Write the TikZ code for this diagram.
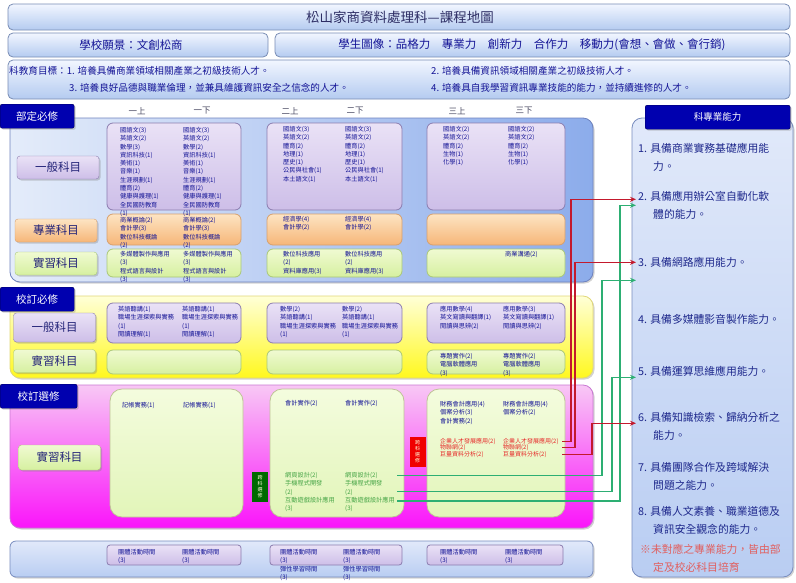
\documentclass[tikz,border=0pt]{standalone}
\usepackage{fontspec}
\newfontfamily\cjk{Noto Sans CJK TC}
\usepackage{tikz}
\usetikzlibrary{arrows.meta,positioning,calc,shadows}
\definecolor{barlight}{RGB}{242,246,255}
\definecolor{bardark}{RGB}{180,203,240}
\definecolor{barline}{RGB}{120,140,180}
\definecolor{tagblue}{RGB}{0,0,175}
\definecolor{tagline}{RGB}{0,0,90}
\definecolor{panAleft}{RGB}{228,236,250}
\definecolor{panAright}{RGB}{140,172,235}
\definecolor{panAline}{RGB}{110,130,190}
\definecolor{panBtop}{RGB}{255,255,215}
\definecolor{panBbottom}{RGB}{255,248,30}
\definecolor{panBline}{RGB}{225,215,120}
\definecolor{panCtop}{RGB}{248,200,245}
\definecolor{panCbottom}{RGB}{250,20,250}
\definecolor{panCline}{RGB}{200,120,210}
\definecolor{panDtop}{RGB}{225,233,250}
\definecolor{panDbottom}{RGB}{185,205,242}
\definecolor{panDline}{RGB}{120,140,190}
\definecolor{lavlight}{RGB}{234,226,246}
\definecolor{lavdark}{RGB}{205,190,232}
\definecolor{lavline}{RGB}{140,125,175}
\definecolor{orglight}{RGB}{253,228,195}
\definecolor{orgdark}{RGB}{246,182,120}
\definecolor{orgline}{RGB}{215,160,110}
\definecolor{grnlight}{RGB}{240,250,210}
\definecolor{grndark}{RGB}{214,240,160}
\definecolor{grnline}{RGB}{170,200,120}
\definecolor{palelight}{RGB}{244,252,222}
\definecolor{paledark}{RGB}{226,245,185}
\definecolor{paleline}{RGB}{190,195,150}
\definecolor{navytext}{RGB}{20,20,150}
\definecolor{labeltext}{RGB}{35,35,120}
\definecolor{titletext}{RGB}{45,45,100}
\definecolor{headtext}{RGB}{70,70,95}
\definecolor{redtext}{RGB}{230,40,40}
\definecolor{greentext}{RGB}{70,165,70}
\definecolor{abilitytext}{RGB}{30,40,140}
\definecolor{notetext}{RGB}{225,95,95}
\definecolor{linkred}{RGB}{195,25,45}
\definecolor{linkgreen}{RGB}{45,175,115}
\definecolor{vgreen}{RGB}{0,105,0}
\definecolor{vred}{RGB}{240,0,0}
\tikzset{
    soft shadow/.style={drop shadow={opacity=.35, shadow xshift=1.5pt, shadow yshift=-1.5pt}},
    bar/.style={draw=barline, line width=.8pt, rounded corners=5pt, top color=barlight, bottom color=bardark},
    section tag/.style={draw=tagline, fill=tagblue, text=white, rounded corners=2pt, anchor=north west,
        minimum height=24pt, inner sep=0pt, soft shadow, font=\cjk\fontsize{10.5}{12}\selectfont},
    row label/.style={draw=#1line, top color=#1light, bottom color=#1dark, rounded corners=3pt, soft shadow,
        minimum width=82pt, minimum height=23pt, inner sep=0pt, text=labeltext, font=\cjk\fontsize{11.5}{12}\selectfont},
    subject box/.style={draw=#1line, top color=#1light, bottom color=#1dark, rounded corners=6pt, line width=.8pt},
    course/.style={anchor=north west, inner sep=0pt, align=left, text=navytext, font=\cjk\fontsize{6.2}{8.3}\selectfont},
    semester/.style={text=headtext, font=\cjk\fontsize{8.5}{10}\selectfont},
    ability/.style={anchor=north west, inner sep=0pt, align=left, text=abilitytext, font=\cjk\fontsize{10.8}{18}\selectfont},
    side tag/.style={fill=#1, text=white!85!yellow, minimum width=16pt, minimum height=30pt, inner sep=0pt,
        align=center, font=\cjk\fontsize{5}{6}\selectfont},
    red link/.style={draw=linkred, line width=1.3pt, -{Stealth[length=6pt,width=5pt]}, shorten >=2pt},
    green link/.style={draw=linkgreen, line width=1.1pt, -{Stealth[length=6pt,width=5pt]}, shorten >=2pt},
}
\tikzstyle{every node}=[font=\cjk]
\begin{document}
\begin{tikzpicture}[x=1pt,y=-1pt]
        \useasboundingbox (0,0) rectangle (796,582);

        \draw[bar] (8,4) rectangle (790,30);
        \draw[bar] (8,33) rectangle (268,57);
        \draw[bar] (275,33) rectangle (790,57);
        \draw[bar] (8,60) rectangle (790,99);
        \node[text=titletext, font=\cjk\fontsize{13.5}{15}\selectfont] (T) at (400,17) {松山家商資料處理科—課程地圖};
        \node[text=navytext, font=\cjk\fontsize{11.5}{13}\selectfont] (V) at (131,45) {學校願景：文創松商};
        \node[text=navytext, font=\cjk\fontsize{11.5}{13}\selectfont] (P) at (532,45)
            {學生圖像：品格力\quad 專業力\quad 創新力\quad 合作力\quad 移動力(會想、會做、會行銷)};
        \begin{scope}[every node/.style={anchor=west, inner sep=0pt, text=navytext, font=\cjk\fontsize{9.6}{11}\selectfont}]
            \node (O1) at (9,71) {科教育目標：1. 培養具備商業領域相關產業之初級技術人才。};
            \node (O2) at (431,71) {2. 培養具備資訊領域相關產業之初級技術人才。};
            \node (O3) at (69,88) {3. 培養良好品德與職業倫理，並兼具維護資訊安全之信念的人才。};
            \node (O4) at (431,88) {4. 培養具自我學習資訊專業技能的能力，並持續進修的人才。};
        \end{scope}

        \draw[draw=panAline, line width=.8pt, rounded corners=10pt, left color=panAleft, right color=panAright, soft shadow]
            (10,118) rectangle (593,282);
        \draw[draw=panBline, line width=.8pt, rounded corners=10pt, top color=panBtop, bottom color=panBbottom, soft shadow]
            (10,296) rectangle (593,378);
        \draw[draw=panCline, line width=.8pt, rounded corners=10pt, top color=panCtop, bottom color=panCbottom, soft shadow]
            (10,385) rectangle (593,528);
        \draw[draw=panDline, line width=.8pt, rounded corners=6pt, top color=panDtop, bottom color=panDbottom, soft shadow]
            (10,541) rectangle (593,577);
        \draw[draw=panDline, line width=.8pt, rounded corners=10pt, top color=panDtop, bottom color=panDbottom, soft shadow]
            (632,118) rectangle (793,577);

        \node[section tag, minimum width=74pt] (TagA) at (0,104) {部定必修};
        \node[section tag, minimum width=74pt] (TagB) at (0,287) {校訂必修};
        \node[section tag, minimum width=77pt] (TagC) at (0,384) {校訂選修};
        \node[section tag, minimum width=145pt, font=\cjk\fontsize{9.5}{11}\selectfont] (TagK) at (645,105) {科專業能力};

        \node[semester] (H1a) at (137,111) {一上};
        \node[semester] (H1b) at (202,111) {一下};
        \node[semester] (H2a) at (290,111) {二上};
        \node[semester] (H2b) at (355,111) {二下};
        \node[semester] (H3a) at (457,111) {三上};
        \node[semester] (H3b) at (524,111) {三下};

        \node[row label=lav] (LA1) at (58,167.5) {一般科目};
        \node[row label=org] (LA2) at (56,230.5) {專業科目};
        \node[row label=grn] (LA3) at (56,263.5) {實習科目};
        \node[row label=lav, minimum height=29pt] (LB1) at (54.5,327.5) {一般科目};
        \node[row label=grn] (LB2) at (54.5,361) {實習科目};
        \node[row label=grn, minimum height=25pt] (LC1) at (59.5,457.5) {實習科目};

        \foreach \xa/\xb in {107/241, 267/402, 427/565} {
            \draw[subject box=lav] (\xa,123) rectangle (\xb,210);
            \draw[subject box=org] (\xa,214) rectangle (\xb,245);
            \draw[subject box=grn] (\xa,249) rectangle (\xb,277);
            \draw[subject box=lav] (\xa,303) rectangle (\xb,343);
            \draw[subject box=grn] (\xa,350) rectangle (\xb,374);
        }
        \draw[subject box=pale, rounded corners=12pt] (110,389) rectangle (243,517);
        \draw[subject box=pale, rounded corners=12pt] (270,389) rectangle (404,517);
        \draw[subject box=pale, rounded corners=12pt] (427,389) rectangle (565,517);
        \draw[subject box=lav, rounded corners=3pt] (107,545) rectangle (241,565);
        \draw[subject box=lav, rounded corners=3pt] (270,545) rectangle (402,565);
        \draw[subject box=lav, rounded corners=3pt] (427,545) rectangle (563,565);

        \node[side tag=vgreen] (VG) at (260,487) {跨\\科\\選\\修};
        \node[side tag=vred] (VR) at (417.5,451.5) {跨\\科\\選\\修};

        \node[course] (A1a) at (120,127) {國語文(3)\\英語文(2)\\數學(3)\\資訊科技(1)\\美術(1)\\音樂(1)\\生涯規劃(1)\\體育(2)\\健康與護理(1)\\全民國防教育\\(1)};
        \node[course] (A1b) at (183,127) {國語文(3)\\英語文(2)\\數學(2)\\資訊科技(1)\\美術(1)\\音樂(1)\\生涯規劃(1)\\體育(2)\\健康與護理(1)\\全民國防教育\\(1)};
        \node[course] (A2a) at (283,126) {國語文(3)\\英語文(2)\\體育(2)\\地理(1)\\歷史(1)\\公民與社會(1)\\本土語文(1)};
        \node[course] (A2b) at (345,126) {國語文(3)\\英語文(2)\\體育(2)\\地理(1)\\歷史(1)\\公民與社會(1)\\本土語文(1)};
        \node[course] (A3a) at (443,126) {國語文(2)\\英語文(2)\\體育(2)\\生物(1)\\化學(1)};
        \node[course] (A3b) at (508,126) {國語文(2)\\英語文(2)\\體育(2)\\生物(1)\\化學(1)};
        \node[course] (P1a) at (120,217) {商業概論(2)\\會計學(3)\\數位科技概論\\(2)};
        \node[course] (P1b) at (183,217) {商業概論(2)\\會計學(3)\\數位科技概論\\(2)};
        \node[course] (P2a) at (283,216) {經濟學(4)\\會計學(2)};
        \node[course] (P2b) at (345,216) {經濟學(4)\\會計學(2)};
        \node[course] (R1a) at (120,251) {多媒體製作與應用\\(3)\\程式語言與設計\\(3)};
        \node[course] (R1b) at (183,251) {多媒體製作與應用\\(3)\\程式語言與設計\\(3)};
        \node[course] (R2a) at (283,251) {數位科技應用\\(2)\\資料庫應用(3)};
        \node[course] (R2b) at (345,251) {數位科技應用\\(2)\\資料庫應用(3)};
        \node[course] (R3b) at (505,251) {商業溝通(2)};

        \node[course] (B1a) at (118,306) {英語聽講(1)\\職場生涯探索與實務\\(1)\\閱讀理解(1)};
        \node[course] (B1b) at (182,306) {英語聽講(1)\\職場生涯探索與實務\\(1)\\閱讀理解(1)};
        \node[course] (B2a) at (280,306) {數學(2)\\英語聽講(1)\\職場生涯探索與實務\\(1)};
        \node[course] (B2b) at (342,306) {數學(2)\\英語聽講(1)\\職場生涯探索與實務\\(1)};
        \node[course] (B3a) at (440,306) {應用數學(4)\\英文寫讀與翻譯(1)\\閱讀與思辨(2)};
        \node[course] (B3b) at (503,306) {應用數學(3)\\英文寫讀與翻譯(1)\\閱讀與思辨(2)};
        \node[course] (Q3a) at (440,353) {專題實作(2)\\電腦軟體應用\\(3)};
        \node[course] (Q3b) at (503,353) {專題實作(2)\\電腦軟體應用\\(3)};

        \node[course] (C1a) at (122,402) {記帳實務(1)};
        \node[course] (C1b) at (183,402) {記帳實務(1)};
        \node[course] (C2a) at (285,400) {會計實作(2)};
        \node[course] (C2b) at (345,400) {會計實作(2)};
        \node[course, text=greentext] (G2a) at (285,472) {網頁設計(2)\\手機程式開發\\(2)\\互動遊戲設計應用\\(3)};
        \node[course, text=greentext, text width=52pt] (ga) at (345,472) {網頁設計(2)};
        \node[course, text=greentext, text width=52pt] (gb) at (345,480.3) {手機程式開發\\(2)};
        \node[course, text=greentext, text width=52pt] (gc) at (345,496.9) {互動遊戲設計應用\\(3)};
        \node[course] (C3a) at (440,401) {財務會計應用(4)\\個案分析(3)\\會計實務(2)};
        \node[course] (C3b) at (503,401) {財務會計應用(4)\\個案分析(2)};
        \node[course, text=redtext, font=\cjk\fontsize{6}{6.5}\selectfont] (D3a) at (440,438) {企業人才發展應用(2)\\物聯網(2)\\巨量資料分析(2)};
        \node[course, text=redtext, font=\cjk\fontsize{6}{6.5}\selectfont, text width=59pt] (ra) at (503,438) {企業人才發展應用(2)};
        \node[course, text=redtext, font=\cjk\fontsize{6}{6.5}\selectfont, text width=59pt] (rb) at (503,444.5) {物聯網(2)};
        \node[course, text=redtext, font=\cjk\fontsize{6}{6.5}\selectfont, text width=59pt] (rc) at (503,451) {巨量資料分析(2)};

        \node[course] (E1a) at (118,549) {團體活動時間\\(3)};
        \node[course] (E1b) at (182,549) {團體活動時間\\(3)};
        \node[course] (E2a) at (280,549) {團體活動時間\\(3)\\彈性學習時間\\(3)};
        \node[course] (E2b) at (343,549) {團體活動時間\\(3)\\彈性學習時間\\(3)};
        \node[course] (E3a) at (440,549) {團體活動時間\\(3)};
        \node[course] (E3b) at (505,549) {團體活動時間\\(3)};

        \node[ability] (c1) at (638,143) {1. 具備商業實務基礎應用能\\\hspace*{15pt}力。};
        \node[ability] (c2) at (638,191) {2. 具備應用辦公室自動化軟\\\hspace*{15pt}體的能力。};
        \node[ability] (c3) at (638,257) {3. 具備網路應用能力。};
        \node[ability] (c4) at (638,314) {4. 具備多媒體影音製作能力。};
        \node[ability] (c5) at (638,366) {5. 具備運算思維應用能力。};
        \node[ability] (c6) at (638,412) {6. 具備知識檢索、歸納分析之\\\hspace*{15pt}能力。};
        \node[ability] (c7) at (638,462) {7. 具備團隊合作及跨域解決\\\hspace*{15pt}問題之能力。};
        \node[ability] (c8) at (638,506) {8. 具備人文素養、職業道德及\\\hspace*{15pt}資訊安全觀念的能力。};
        \node[ability, text=notetext] (N) at (640,544) {※未對應之專業能力，皆由部\\\hspace*{13pt}定及校必科目培育};

        \coordinate (xR1) at (571,0);
        \coordinate (xR2) at (575,0);
        \coordinate (xR3) at (592,0);
        \coordinate (xG1) at (602,0);
        \coordinate (xG2) at (612,0);
        \coordinate (xG3) at (620,0);
        \coordinate (gbOut) at ([yshift=-4pt]gb.east);
        \coordinate (gcOut) at ([yshift=3.5pt]gc.east);

        \draw[green link] (ga.east) -- (xG1 |- ga.east) |- ([yshift=-18pt]c3.west);
        \draw[green link] (gbOut) -- (xG2 |- gbOut) |- ([yshift=-6pt]c5.west);
        \draw[green link] (gcOut) -- (xG3 |- gcOut) |- (c2.west);
        \draw[red link] (ra.east) -- (xR1 |- ra.east) |- ([yshift=6pt]c2.west);
        \draw[red link] (rb.east) -- (xR2 |- rb.east) |- (c3.west);
        \draw[red link] (rc.east) -- (xR3 |- rc.east) |- ([yshift=3pt]c6.west);
    \end{tikzpicture}
\end{document}
